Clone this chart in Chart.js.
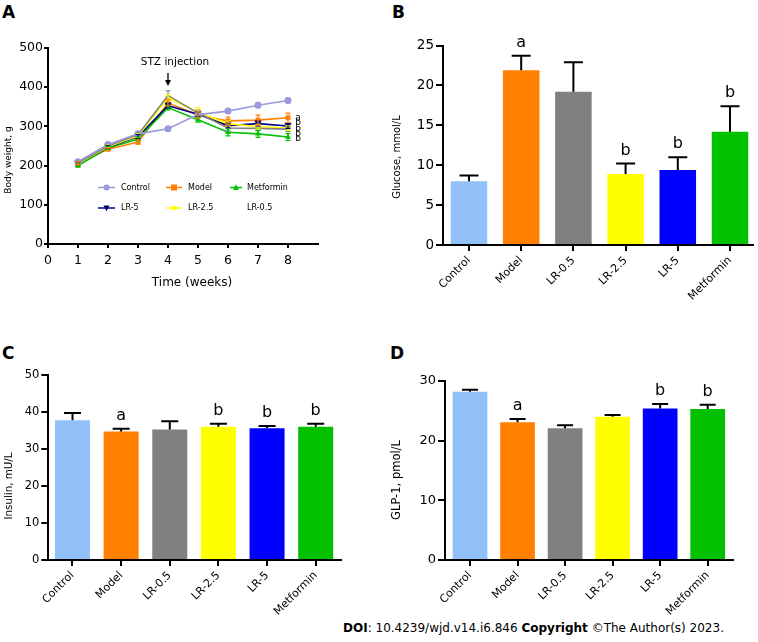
<!DOCTYPE html>
<html><head><meta charset="utf-8">
<script src="https://cdn.jsdelivr.net/npm/chart.js@4.4.1/dist/chart.umd.min.js"></script>
<style>
html,body{margin:0;padding:0;background:#fff}
body{position:relative;width:758px;height:642px;overflow:hidden;font-family:'DejaVu Sans','Noto Sans',sans-serif;color:#000}
canvas{position:absolute}
.pl{position:absolute;font-weight:bold;font-size:17px;line-height:17px}
.yt{position:absolute;white-space:nowrap;transform:translate(-50%,-50%) rotate(-90deg);line-height:1}
.xt{position:absolute;white-space:nowrap;transform:translate(-50%,-50%);line-height:1}
#doi{position:absolute;left:343px;top:621px;font-size:12px;white-space:nowrap;line-height:14px}
</style></head>
<body>
<div class="pl" style="left:2px;top:4px">A</div>
<div class="pl" style="left:392px;top:4px">B</div>
<div class="pl" style="left:2px;top:345px">C</div>
<div class="pl" style="left:390px;top:345px">D</div>

<canvas id="cA" width="330" height="300" style="left:0;top:0"></canvas>
<canvas id="cB" width="378" height="320" style="left:380px;top:0"></canvas>
<canvas id="cC" width="350" height="300" style="left:0;top:320px"></canvas>
<canvas id="cD" width="378" height="300" style="left:380px;top:320px"></canvas>

<div class="yt" style="left:8px;top:160px;font-size:9px">Body weight, g</div>
<div class="xt" style="left:192px;top:282px;font-size:12px">Time (weeks)</div>
<div class="yt" style="left:397px;top:157px;font-size:10px">Glucose, mmol/L</div>
<div class="yt" style="left:8px;top:486px;font-size:10.3px">Insulin, mU/L</div>
<div class="yt" style="left:397px;top:480px;font-size:11.5px">GLP-1, pmol/L</div>
<div id="doi"><b>DOI</b>: 10.4239/wjd.v14.i6.846 <b>Copyright</b> ©The Author(s) 2023.</div>

<script>
// ---------------- data ----------------
const weeks = [1, 2, 3, 4, 5, 6, 7, 8];
const weekTicks = [0, 1, 2, 3, 4, 5, 6, 7, 8];
const bwTicks = [0, 100, 200, 300, 400, 500];
const bwControl = [210, 254, 281, 294, 330, 339, 354, 366];
const bwControlErr = [4, 4, 4, 5, 6, 6, 6, 6];
const bwModel = [206, 242, 260, 360, 329, 314, 316, 322];
const bwModelErr = [4, 4, 5, 8, 8, 10, 13, 12];
const bwMetformin = [200, 245, 268, 348, 317, 285, 281, 273];
const bwMetforminErr = [4, 4, 5, 6, 6, 9, 9, 9];
const bwLR5 = [205, 247, 274, 353, 331, 302, 307, 301];
const bwLR5Err = [4, 4, 5, 6, 6, 6, 6, 6];
const bwLR25 = [205, 248, 276, 373, 336, 307, 299, 296];
const bwLR25Err = [4, 4, 5, 8, 12, 8, 6, 6];
const bwLR05 = [207, 250, 279, 379, 334, 296, 295, 293];
const bwLR05Err = [4, 4, 5, 12, 8, 8, 6, 6];
const bwSig = ['a', 'b', 'b', 'b', 'b'];

const groups = ['Control', 'Model', 'LR-0.5', 'LR-2.5', 'LR-5', 'Metformin'];
const glucose = [8.0, 21.9, 19.2, 8.9, 9.4, 14.2];
const glucoseErr = [0.7, 1.8, 3.7, 1.3, 1.6, 3.2];
const glucoseSig = ['', 'a', '', 'b', 'b', 'b'];
const glucoseTicks = [0, 5, 10, 15, 20, 25];

const insulin = [37.8, 34.7, 35.3, 36.0, 35.6, 36.0];
const insulinErr = [1.9, 0.8, 2.2, 0.8, 0.6, 0.8];
const insulinSig = ['', 'a', '', 'b', 'b', 'b'];
const insulinTicks = [0, 10, 20, 30, 40, 50];

const glp1 = [28.2, 23.1, 22.1, 24.0, 25.4, 25.3];
const glp1Err = [0.35, 0.55, 0.5, 0.3, 0.75, 0.7];
const glp1Sig = ['', 'a', '', '', 'b', 'b'];
const glp1Ticks = [0, 10, 20, 30];

// ---------------- styles ----------------
const FONT = "'DejaVu Sans','Noto Sans',sans-serif";
Chart.defaults.font.family = FONT;
Chart.defaults.color = '#000';
const barColors = ['#92c0f8', '#ff8000', '#808080', '#ffff00', '#0000ff', '#00c000'];

// ---------------- plugins ----------------
const errorBars = {
  id: 'errorBars',
  afterDatasetsDraw(chart) {
    const ctx = chart.ctx, ys = chart.scales.y;
    chart.data.datasets.forEach((ds, di) => {
      if (!ds.errors) return;
      const meta = chart.getDatasetMeta(di);
      ctx.save();
      ctx.strokeStyle = ds.errColor || ds.borderColor;
      ctx.lineWidth = ds.errWidth || 2;
      meta.data.forEach((el, i) => {
        const v = ds.data[i].y, e = ds.errors[i], x = el.x;
        const yT = ys.getPixelForValue(v + e);
        const yB = ys.getPixelForValue(ds.errBoth ? v - e : v);
        const cw = ds.capWidth / 2;
        ctx.beginPath();
        ctx.moveTo(x, yB); ctx.lineTo(x, yT);
        ctx.moveTo(x - cw, yT); ctx.lineTo(x + cw, yT);
        if (ds.errBoth) { ctx.moveTo(x - cw, yB); ctx.lineTo(x + cw, yB); }
        ctx.stroke();
      });
      ctx.restore();
    });
  }
};

const sigLetters = {
  id: 'sigLetters',
  afterDatasetsDraw(chart) {
    const ds = chart.data.datasets[0];
    if (!ds.sig) return;
    const ctx = chart.ctx, ys = chart.scales.y, meta = chart.getDatasetMeta(0);
    ctx.save();
    ctx.fillStyle = '#000';
    ctx.font = '16px ' + FONT;
    ctx.textAlign = 'center';
    ctx.textBaseline = 'alphabetic';
    meta.data.forEach((el, i) => {
      if (!ds.sig[i]) return;
      const y = ys.getPixelForValue(ds.data[i].y + ds.errors[i]) - 9;
      ctx.fillText(ds.sig[i], el.x, y);
    });
    ctx.restore();
  }
};

function drawMarker(ctx, style, x, y, r, color) {
  ctx.save();
  ctx.fillStyle = color; ctx.strokeStyle = color; ctx.lineWidth = 1;
  ctx.beginPath();
  if (style === 'circle') { ctx.arc(x, y, r, 0, Math.PI * 2); }
  else if (style === 'rect') { ctx.rect(x - r, y - r, 2 * r, 2 * r); }
  else if (style === 'triangle') { ctx.moveTo(x, y - r * 1.1); ctx.lineTo(x + r, y + r * 0.8); ctx.lineTo(x - r, y + r * 0.8); ctx.closePath(); }
  else if (style === 'triangleDown') { ctx.moveTo(x, y + r * 1.1); ctx.lineTo(x + r, y - r * 0.8); ctx.lineTo(x - r, y - r * 0.8); ctx.closePath(); }
  else if (style === 'rectRot') { ctx.moveTo(x, y - r); ctx.lineTo(x + r, y); ctx.lineTo(x, y + r); ctx.lineTo(x - r, y); ctx.closePath(); }
  ctx.fill();
  ctx.restore();
}

const triDown = (() => {
  const c = document.createElement('canvas'); c.width = 9; c.height = 9;
  const g = c.getContext('2d'); drawMarker(g, 'triangleDown', 4.5, 4.5, 3.6, '#00007f'); return c;
})();

const legendA = {
  id: 'legendA',
  afterDraw(chart) {
    const ctx = chart.ctx;
    const order = ['Control', 'Model', 'Metformin', 'LR-5', 'LR-2.5', 'LR-0.5'];
    const colX = [[98, 115, 121], [166, 182, 188], [230, 242, 247]];
    const rowY = [187.5, 208];
    ctx.save();
    ctx.font = '8px ' + FONT;
    ctx.textBaseline = 'middle';
    order.forEach((name, k) => {
      const ds = chart.data.datasets.find(d => d.label === name);
      const [x0, x1, tx] = colX[k % 3]; const y = rowY[Math.floor(k / 3)];
      if (ds.legendMarker) {
        ctx.strokeStyle = ds.borderColor; ctx.lineWidth = 1.5;
        ctx.beginPath(); ctx.moveTo(x0, y); ctx.lineTo(x1, y); ctx.stroke();
        drawMarker(ctx, ds.legendMarker, (x0 + x1) / 2, y, 3, ds.borderColor);
      }
      ctx.fillStyle = '#000';
      ctx.fillText(name, tx, y);
    });
    ctx.restore();
  }
};

const annotA = {
  id: 'annotA',
  afterDraw(chart) {
    const ctx = chart.ctx, xs = chart.scales.x, ys = chart.scales.y;
    ctx.save();
    const x4 = xs.getPixelForValue(4);
    ctx.fillStyle = '#000'; ctx.strokeStyle = '#000';
    ctx.font = '10.5px ' + FONT; ctx.textAlign = 'center'; ctx.textBaseline = 'middle';
    ctx.fillText('STZ injection', x4 + 7, 62);
    ctx.lineWidth = 1.3;
    ctx.beginPath(); ctx.moveTo(x4, 73); ctx.lineTo(x4, 82); ctx.stroke();
    ctx.beginPath(); ctx.moveTo(x4 - 3, 80); ctx.lineTo(x4 + 3, 80); ctx.lineTo(x4, 86); ctx.closePath(); ctx.fill();
    const x8 = xs.getPixelForValue(weeks[weeks.length - 1]) + 10;
    const y0 = ys.getPixelForValue(bwModel[bwModel.length - 1]);
    ctx.font = '9px ' + FONT;
    bwSig.forEach((s, i) => ctx.fillText(s, x8, y0 + i * 5.3));
    ctx.restore();
  }
};

// ---------------- chart A ----------------
function axisCommon(extra) {
  return Object.assign({
    grid: { drawOnChartArea: false, drawTicks: true, tickLength: 4, color: '#000', lineWidth: 2, offset: false },
    border: { display: true, color: '#000', width: 2 },
  }, extra);
}
function lineDs(label, values, errs, color, style, radius, legendMarker) {
  return {
    label, data: weeks.map((w, i) => ({ x: w, y: values[i] })), errors: errs, errBoth: true, capWidth: 5, errWidth: 1.2,
    borderColor: color, backgroundColor: color, borderWidth: 1.6,
    pointStyle: style, pointRadius: radius, pointBorderWidth: 0, pointBackgroundColor: color,
    legendMarker, tension: 0
  };
}
new Chart(document.getElementById('cA'), {
  type: 'line',
  data: {
    datasets: [
      lineDs('Control', bwControl, bwControlErr, '#9999dd', 'circle', 3.5, 'circle'),
      lineDs('LR-0.5', bwLR05, bwLR05Err, '#808080', 'circle', 0, null),
      lineDs('LR-2.5', bwLR25, bwLR25Err, '#ffff00', 'rectRot', 3, 'rectRot'),
      lineDs('LR-5', bwLR5, bwLR5Err, '#00007f', triDown, 4, 'triangleDown'),
      lineDs('Metformin', bwMetformin, bwMetforminErr, '#00c000', 'triangle', 3.5, 'triangle'),
      lineDs('Model', bwModel, bwModelErr, '#ff8000', 'rect', 3.5, 'rect'),
    ]
  },
  options: {
    responsive: false, animation: false, devicePixelRatio: 1,
    layout: { padding: { top: 48, right: 12, left: 0, bottom: 0 } },
    plugins: { legend: { display: false }, tooltip: { enabled: false } },
    scales: {
      x: axisCommon({
        type: 'linear', min: 0, max: 9, offset: false,
        afterFit(s) { s.height = 56; },
        afterBuildTicks(s) { s.ticks = weekTicks.map(v => ({ value: v })); },
        ticks: { autoSkip: false, maxRotation: 0, font: { size: 12.5 }, padding: 5, color: '#000' }
      }),
      y: axisCommon({
        min: 0, max: 500,
        afterFit(s) { s.width = 48; },
        afterBuildTicks(s) { s.ticks = bwTicks.map(v => ({ value: v })); },
        ticks: { font: { size: 12.5 }, padding: 1, color: '#000' }
      })
    }
  },
  plugins: [errorBars, legendA, annotA]
});

// ---------------- bar charts ----------------
function barChart(id, values, errs, sigs, yTicks, cfg) {
  return new Chart(document.getElementById(id), {
    type: 'bar',
    data: {
      datasets: [{
        data: groups.map((g, i) => ({ x: i, y: values[i] })), errors: errs, sig: sigs,
        backgroundColor: barColors, borderWidth: 0, errColor: '#000', errWidth: 2, capWidth: cfg.cap,
        barPercentage: cfg.barPct, categoryPercentage: 1
      }]
    },
    options: {
      responsive: false, animation: false, devicePixelRatio: 1,
      layout: { padding: { top: cfg.top, right: cfg.right, left: 0, bottom: 0 } },
      plugins: { legend: { display: false }, tooltip: { enabled: false } },
      scales: {
        x: axisCommon({
          type: 'linear', min: cfg.xMin, max: cfg.xMax, offset: false,
          grid: { drawOnChartArea: false, drawTicks: true, tickLength: 6, color: '#000', lineWidth: 2, offset: false },
          afterFit(s) { s.height = cfg.xH; },
          afterBuildTicks(s) { s.ticks = groups.map((g, i) => ({ value: i })); },
          ticks: { autoSkip: false, minRotation: 45, maxRotation: 45, font: { size: 11 }, padding: 3, color: '#000',
                   callback: (v, i) => groups[i] }
        }),
        y: axisCommon({
          min: 0, max: yTicks[yTicks.length - 1],
          grid: { drawOnChartArea: false, drawTicks: true, tickLength: 7, color: '#000', lineWidth: 2 },
          afterFit(s) { s.width = cfg.yW; },
          afterBuildTicks(s) { s.ticks = yTicks.map(v => ({ value: v })); },
          ticks: { font: { size: cfg.tf }, padding: 2, color: '#000' }
        })
      }
    },
    plugins: [errorBars, sigLetters]
  });
}

barChart('cB', glucose, glucoseErr, glucoseSig, glucoseTicks,
  { top: 45.5, right: 5.3, yW: 63, xH: 75, xMin: -0.498, xMax: 5.435, barPct: 0.7, cap: 19, tf: 13.5 });
barChart('cC', insulin, insulinErr, insulinSig, insulinTicks,
  { top: 55, right: 9.3, yW: 48.3, xH: 60, xMin: -0.4975, xMax: 5.514, barPct: 0.72, cap: 17, tf: 11.5 });
barChart('cD', glp1, glp1Err, glp1Sig, glp1Ticks,
  { top: 61, right: 25.3, yW: 65, xH: 60, xMin: -0.526, xMax: 5.526, barPct: 0.73, cap: 16, tf: 13 });
</script>
</body></html>
